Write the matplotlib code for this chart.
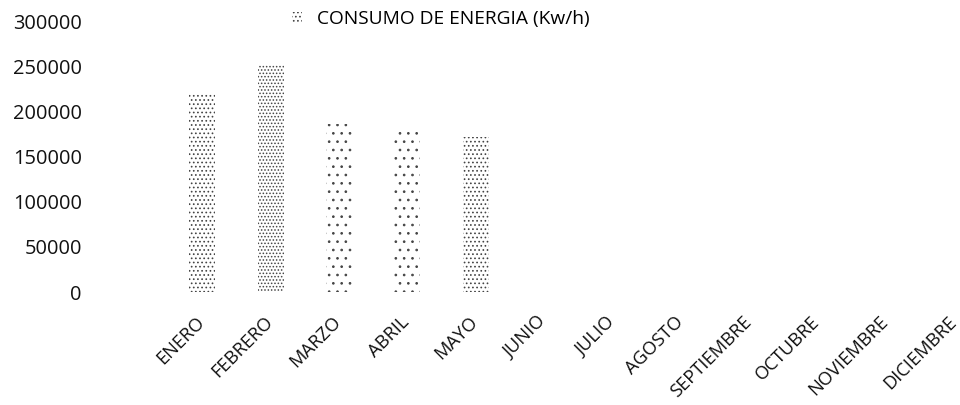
import matplotlib
matplotlib.use('Agg')
import matplotlib.pyplot as plt
import matplotlib.transforms as mtransforms
import numpy as np

# data
meses = ['ENERO', 'FEBRERO', 'MARZO', 'ABRIL', 'MAYO', 'JUNIO', 'JULIO',
         'AGOSTO', 'SEPTIEMBRE', 'OCTUBRE', 'NOVIEMBRE', 'DICIEMBRE']
consumo = [220000, 252000, 186000, 180000, 172000, 0, 0, 0, 0, 0, 0, 0]
yticks = [0, 50000, 100000, 150000, 200000, 250000, 300000]

# dotted fill density per bar (scan looks like dithered grey)
hatches = ['....', '.....', '..', '..', '....', '', '', '', '', '', '', '']

plt.rcParams['font.family'] = ['Open Sans', 'DejaVu Sans']
plt.rcParams['hatch.linewidth'] = 0.7

fig = plt.figure(figsize=(9.6, 4.05), dpi=100)
ax = fig.add_axes([0.175, 0.279, 0.825, 0.6674])

x = np.arange(len(meses))
bars = ax.bar(x, consumo, width=0.38, color='white', edgecolor='#444444',
              linewidth=0, label='CONSUMO DE ENERGIA (Kw/h)')
for b, h in zip(bars, hatches):
    b.set_hatch(h)

ax.set_xlim(-0.5, 11.08)
ax.set_ylim(0, 300000)
ax.set_yticks(yticks)
ax.set_yticklabels([str(v) for v in yticks], fontsize=14.4, color='#111111')
ax.tick_params(axis='y', length=0, pad=62)

ax.set_xticks(x)
ax.set_xticklabels(meses, rotation=45, ha='right', va='top',
                   rotation_mode='anchor', fontsize=13.2, color='#111111')
ax.tick_params(axis='x', length=0, pad=15)
shift = mtransforms.ScaledTranslation(-7 / 100, 0, fig.dpi_scale_trans)
for lbl in ax.get_xticklabels():
    lbl.set_transform(lbl.get_transform() + shift)

for s in ax.spines.values():
    s.set_visible(False)

fig.legend(handles=[bars[0]], labels=['CONSUMO DE ENERGIA (Kw/h)'],
           loc='center', bbox_to_anchor=(441 / 960, 1 - 19 / 405),
           frameon=False, fontsize=13.8, handlelength=0.5, handleheight=0.5,
           handletextpad=0.8)

fig.savefig('out.png', dpi=100)
